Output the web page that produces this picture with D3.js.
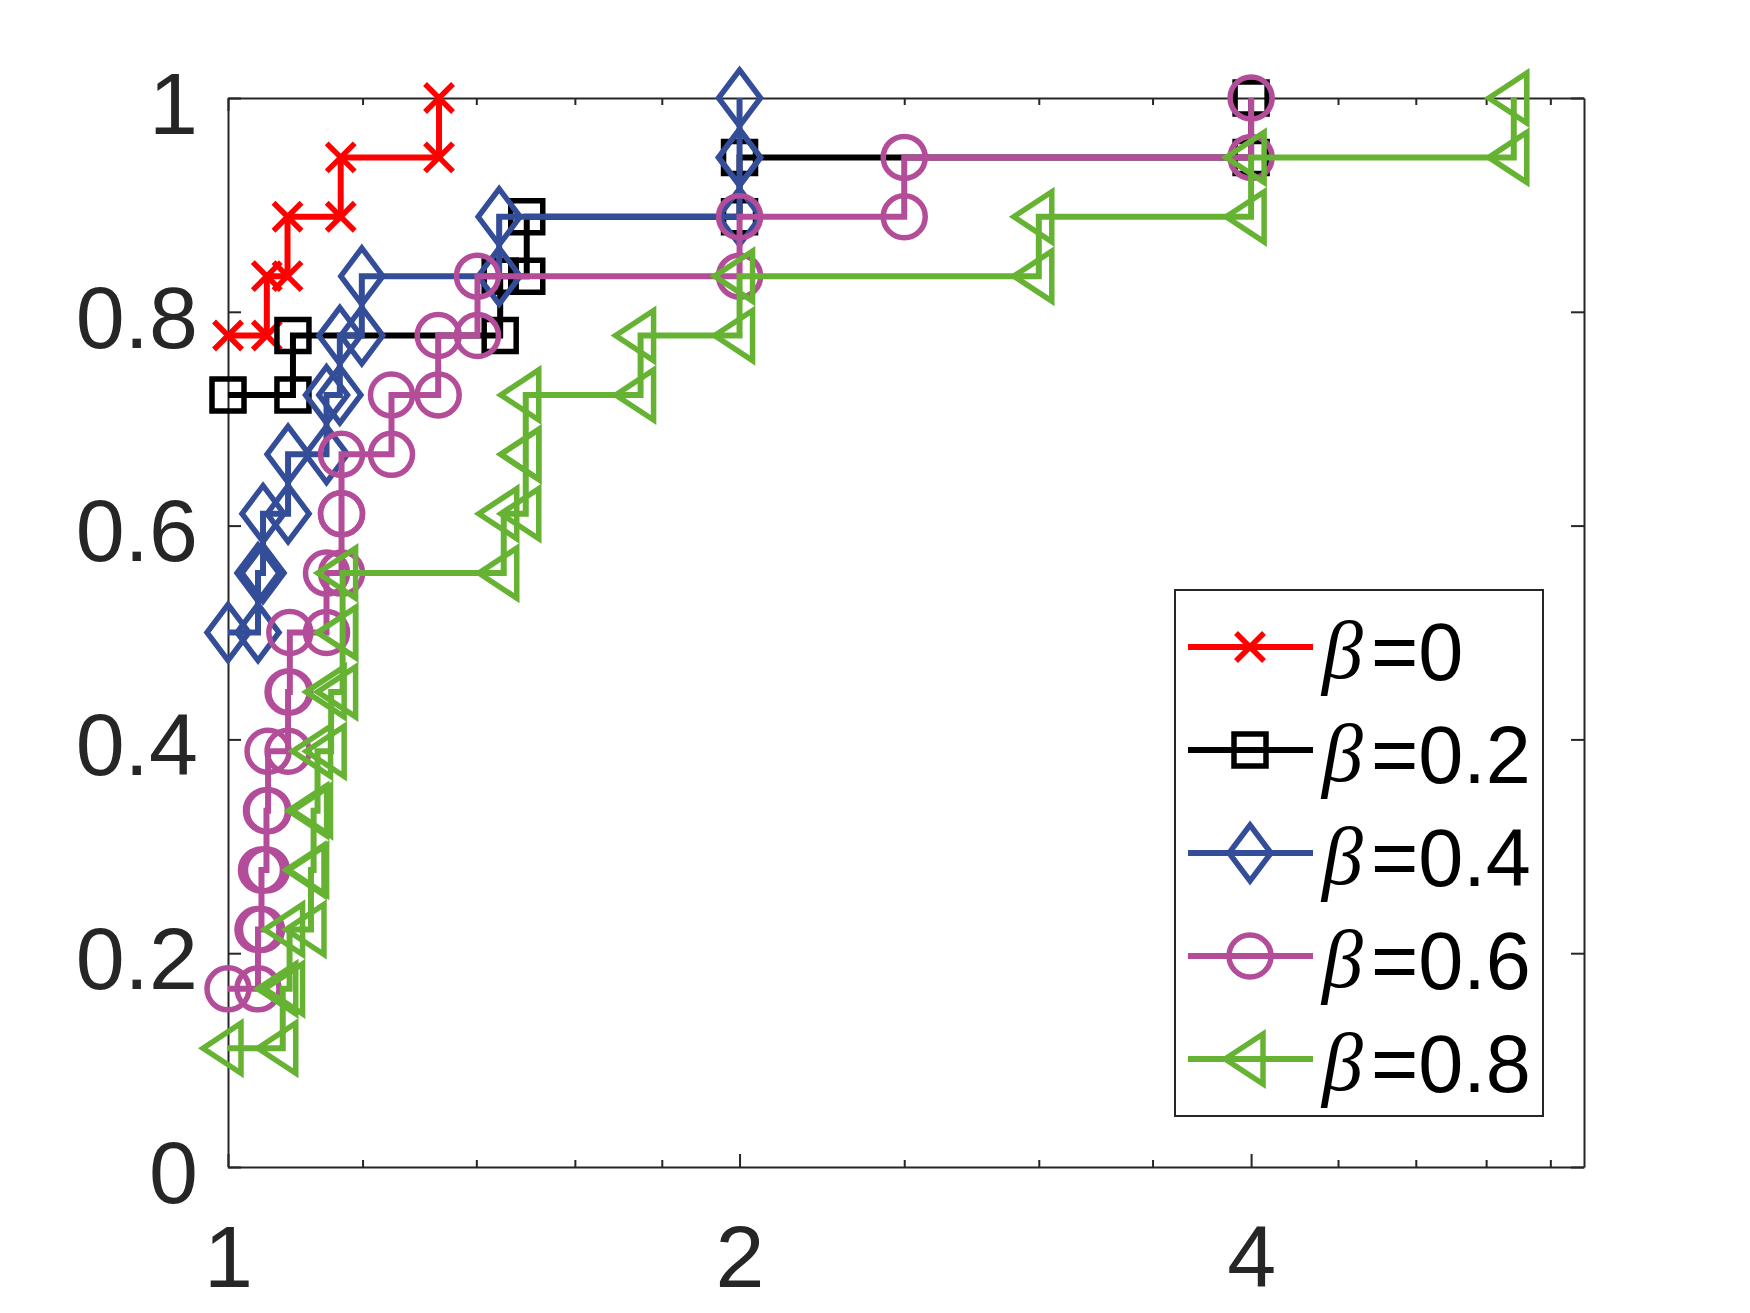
<!DOCTYPE html>
<html>
<head>
<meta charset="utf-8">
<script src="https://cdn.jsdelivr.net/npm/d3@7"></script>
<style>
  body { margin: 0; background: #fff; }
  svg { display: block; }
</style>
</head>
<body>
<div id="chart"></div>
<script>
// performance profile, 18 problems, sorted ratios per solver setting
const seriesNames = ["0", "0.2", "0.4", "0.6", "0.8"];
const ratiosBeta0 = [1, 1, 1, 1, 1, 1, 1, 1, 1, 1, 1, 1, 1, 1, 1.054, 1.084, 1.165, 1.331];
const ratiosBeta02 = [1, 1, 1, 1, 1, 1, 1, 1, 1, 1, 1, 1, 1, 1.092, 1.446, 1.499, 2, 4];
const ratiosBeta04 = [1, 1, 1, 1, 1, 1, 1, 1, 1, 1.0415, 1.0486, 1.0848, 1.1428, 1.1636, 1.1988, 1.444, 2, 2];
const ratiosBeta06 = [1, 1, 1, 1.0415, 1.0464, 1.0535, 1.0558, 1.0848, 1.0874, 1.1428, 1.1663, 1.1663, 1.248, 1.3295, 1.4022, 2, 2.5, 4];
const ratiosBeta08 = [1, 1, 1.077, 1.087, 1.119, 1.123, 1.129, 1.15, 1.168, 1.168, 1.453, 1.497, 1.497, 1.749, 2, 3, 4, 5.71];

const xTicks = [1, 2, 4];
const xMinorTicks = [1.2, 1.4, 1.6, 1.8, 2.5, 3, 3.5, 4.5, 5, 5.5, 6];
const yTicks = [0, 0.2, 0.4, 0.6, 0.8, 1];
const yTickLabels = ["0", "0.2", "0.4", "0.6", "0.8", "1"];

const allRatios = [ratiosBeta0, ratiosBeta02, ratiosBeta04, ratiosBeta06, ratiosBeta08];
const colors = ["#ff0000", "#000000", "#334d99", "#b34d99", "#66b333"];
const markerTypes = ["x", "square", "diamond", "circle", "triangleLeft"];

const width = 1750, height = 1313;
const plotLeft = 228, plotRight = 1584, plotTop = 98, plotBottom = 1167;
const axisColor = "#262626";
const fontSans = "'Liberation Sans', Arial, Helvetica, sans-serif";
const lineW = 6, markerW = 5.5;

let svg = d3.select("#chart").append("svg")
  .attr("width", width)
  .attr("height", height);

svg.append("rect").attr("width", width).attr("height", height).attr("fill", "#fff");

let x = d3.scaleLog().base(2).domain([1, 6.28]).range([plotLeft, plotRight]);
let y = d3.scaleLinear().domain([0, 1]).range([plotBottom, plotTop]);

// axes (ticks point inward, box on)
function styleAxis(g) {
  g.selectAll(".domain").attr("stroke", axisColor).attr("stroke-width", 2);
  g.selectAll(".tick line").attr("stroke", axisColor).attr("stroke-width", 2);
  g.selectAll("text")
    .attr("fill", axisColor)
    .style("font-family", fontSans)
    .style("font-size", "88px");
}

let gBottom = svg.append("g").attr("transform", `translate(0,${plotBottom})`)
  .call(d3.axisBottom(x).tickValues(xTicks).tickSizeInner(-13).tickSizeOuter(0)
    .tickPadding(58).tickFormat(d3.format("d")));
styleAxis(gBottom);

let gBottomMinor = svg.append("g").attr("transform", `translate(0,${plotBottom})`)
  .call(d3.axisBottom(x).tickValues(xMinorTicks).tickSizeInner(-7).tickSizeOuter(0).tickFormat(""));
styleAxis(gBottomMinor);
gBottomMinor.select(".domain").remove();

let gTop = svg.append("g").attr("transform", `translate(0,${plotTop})`)
  .call(d3.axisTop(x).tickValues(xTicks).tickSizeInner(-13).tickSizeOuter(0).tickFormat(""));
styleAxis(gTop);

let gTopMinor = svg.append("g").attr("transform", `translate(0,${plotTop})`)
  .call(d3.axisTop(x).tickValues(xMinorTicks).tickSizeInner(-7).tickSizeOuter(0).tickFormat(""));
styleAxis(gTopMinor);
gTopMinor.select(".domain").remove();

let gLeft = svg.append("g").attr("transform", `translate(${plotLeft},0)`)
  .call(d3.axisLeft(y).tickValues(yTicks).tickSizeInner(-13).tickSizeOuter(0)
    .tickPadding(30).tickFormat((d, i) => yTickLabels[i]));
styleAxis(gLeft);
gLeft.selectAll("text").attr("dy", "0.4em");

let gRight = svg.append("g").attr("transform", `translate(${plotRight},0)`)
  .call(d3.axisRight(y).tickValues(yTicks).tickSizeInner(-13).tickSizeOuter(0).tickFormat(""));
styleAxis(gRight);

// marker shapes, centred on 0,0
function markerPath(type) {
  switch (type) {
    case "x":
      return "M-14,-14L14,14M-14,14L14,-14";
    case "square":
      return "M-16,-16H16V16H-16Z";
    case "diamond":
      return "M0,-28L21,0L0,28L-21,0Z";
    case "circle":
      return d3.arc()({innerRadius: 0, outerRadius: 21, startAngle: 0, endAngle: 2 * Math.PI});
    case "triangleLeft":
      return "M-25,0L13,-25L13,25Z";
  }
}

// stairs vertices, starting from the last point at ratio 1
function stairsPoints(r) {
  let n = r.length, start = 0;
  r.forEach((v, i) => { if (v === 1) start = i; });
  let pts = [];
  for (let i = start; i < n; i++) {
    pts.push([r[i], (i + 1) / n]);
    if (i + 1 < n) pts.push([r[i + 1], (i + 1) / n]);
  }
  return pts;
}

let line = d3.line()
  .x(d => x(d[0]))
  .y(d => y(d[1]));

allRatios.forEach((r, s) => {
  let pts = stairsPoints(r);
  let g = svg.append("g").attr("class", "series");
  g.append("path")
    .attr("d", line(pts))
    .attr("fill", "none")
    .attr("stroke", colors[s])
    .attr("stroke-width", lineW);
  g.selectAll(".marker")
    .data(pts)
    .enter()
    .append("path")
    .attr("class", "marker")
    .attr("d", markerPath(markerTypes[s]))
    .attr("transform", d => `translate(${x(d[0])},${y(d[1])})`)
    .attr("fill", "none")
    .attr("stroke", colors[s])
    .attr("stroke-width", markerW);
});

// legend
let legend = svg.append("g");
legend.append("rect")
  .attr("x", 1175).attr("y", 590)
  .attr("width", 368).attr("height", 526)
  .attr("fill", "#fff")
  .attr("stroke", axisColor)
  .attr("stroke-width", 2);

seriesNames.forEach((name, i) => {
  let ly = 647 + i * 103;
  legend.append("line")
    .attr("x1", 1188).attr("x2", 1313)
    .attr("y1", ly).attr("y2", ly)
    .attr("stroke", colors[i])
    .attr("stroke-width", lineW);
  legend.append("path")
    .attr("d", markerPath(markerTypes[i]))
    .attr("transform", `translate(1250,${ly})`)
    .attr("fill", "none")
    .attr("stroke", colors[i])
    .attr("stroke-width", markerW);
  legend.append("text")
    .attr("x", 1322).attr("y", ly + 31)
    .style("font-family", "'Liberation Serif', 'DejaVu Serif', serif")
    .style("font-style", "italic")
    .style("font-size", "82px")
    .attr("fill", "#000")
    .text("β");
  legend.append("text")
    .attr("x", 1371).attr("y", ly + 33)
    .style("font-family", fontSans)
    .style("font-size", "81px")
    .attr("fill", "#000")
    .text("=" + name);
});
</script>
</body>
</html>
